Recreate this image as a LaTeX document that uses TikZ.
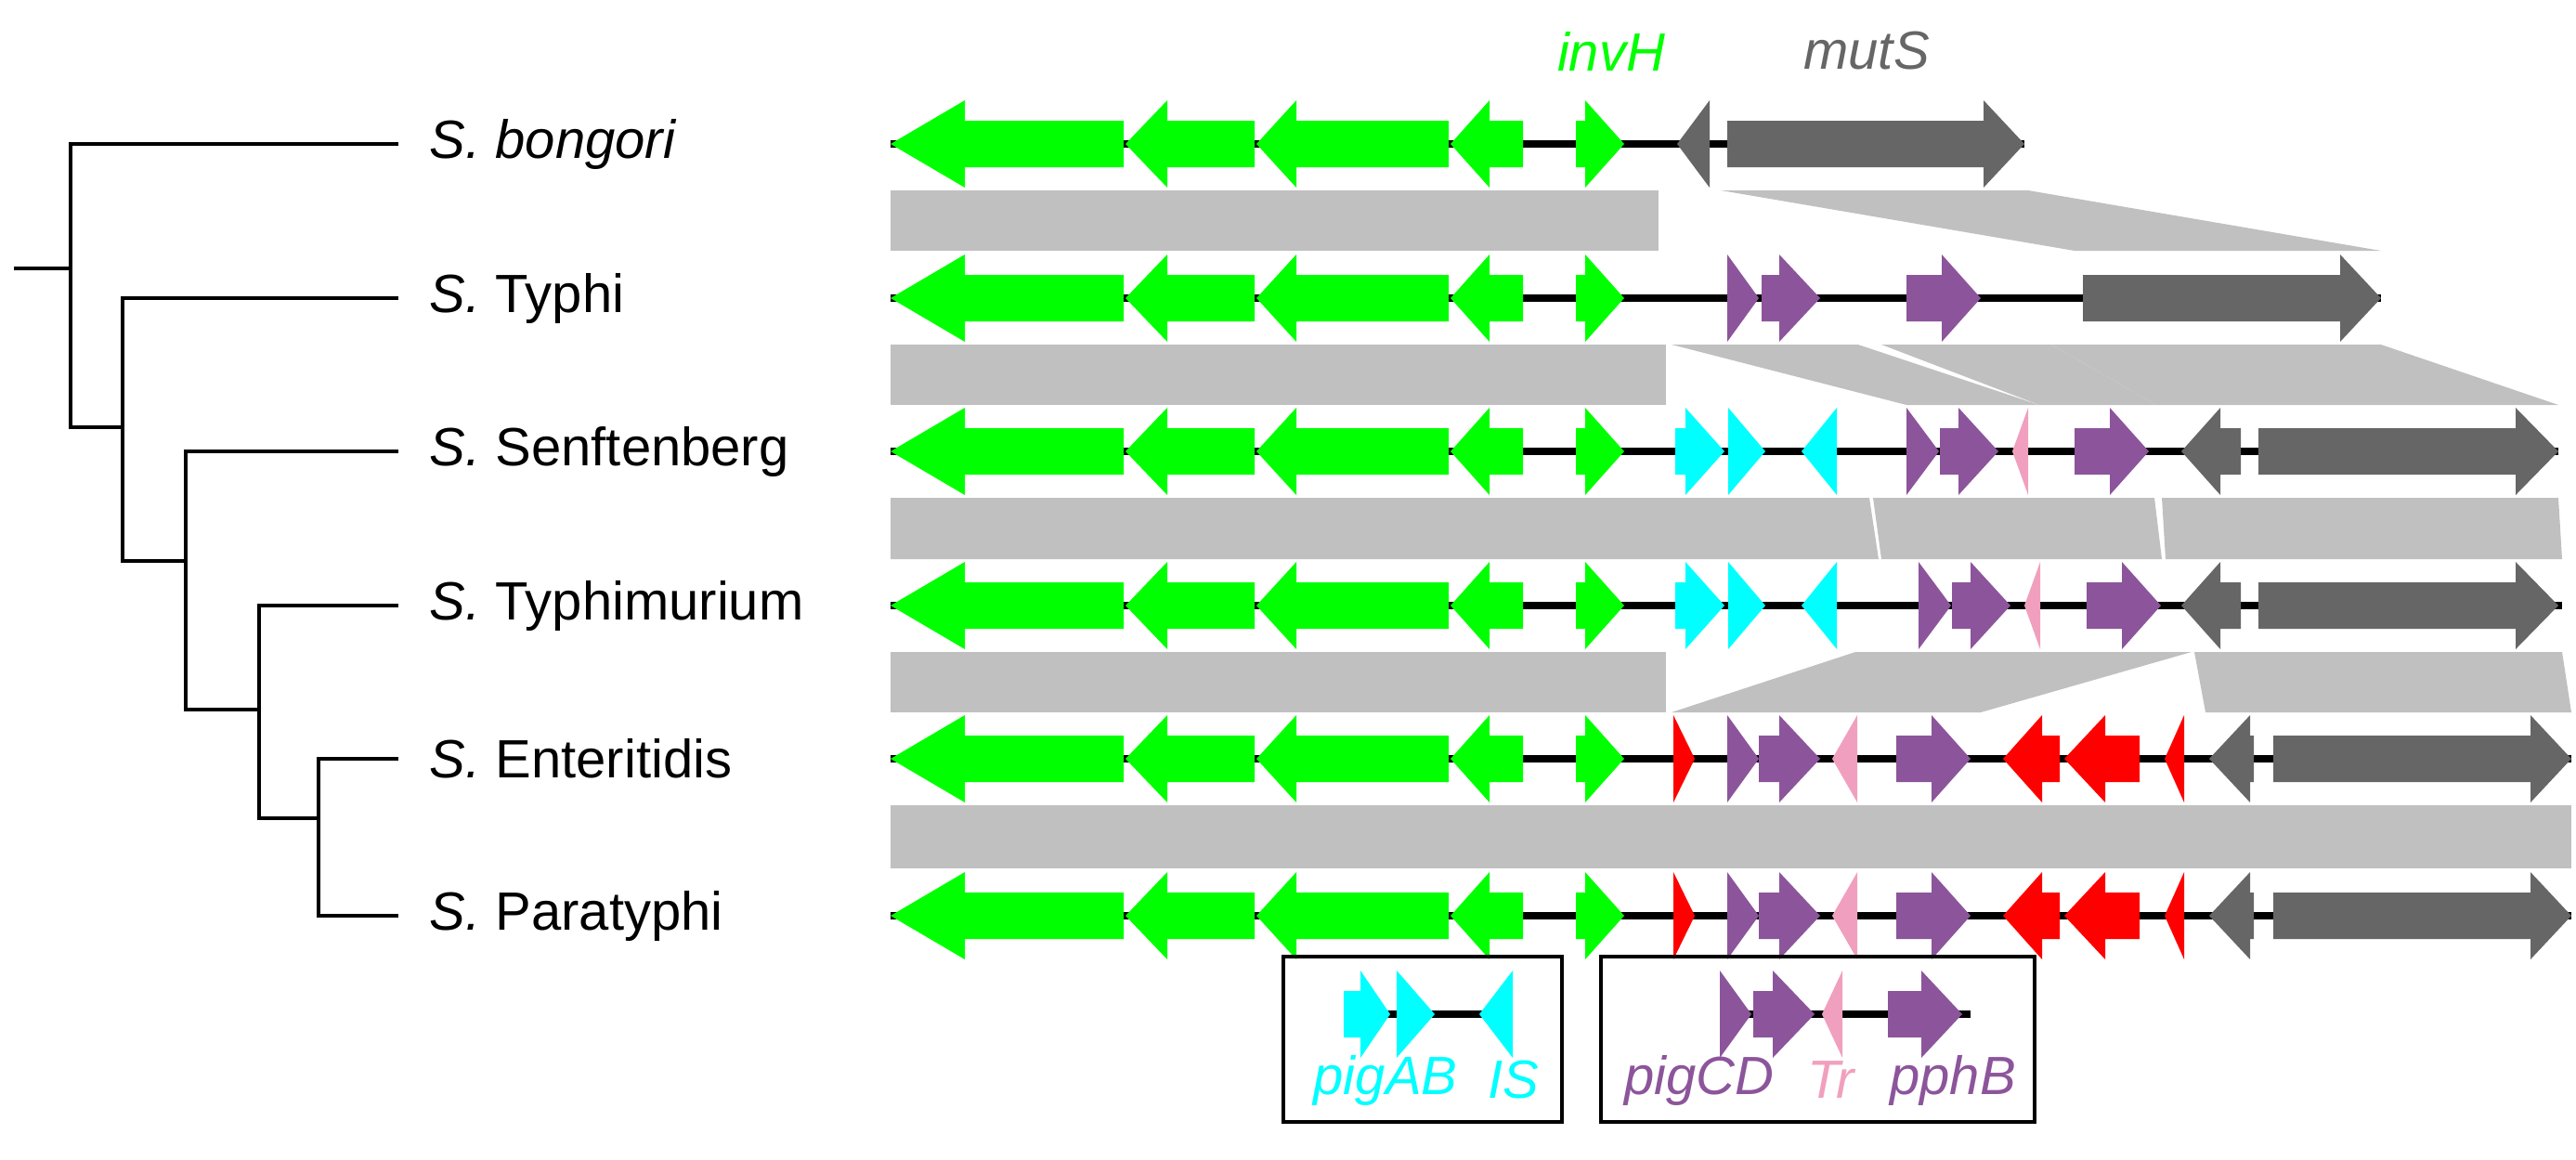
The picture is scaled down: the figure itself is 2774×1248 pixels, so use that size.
\documentclass[tikz,border=0pt]{standalone}
\usepackage{fontspec}
\setmainfont{Liberation Sans}
\usepackage{tikz}
\usetikzlibrary{positioning}

\definecolor{gGreen}{RGB}{0,255,0}
\definecolor{gCyan}{RGB}{0,255,255}
\definecolor{gPurple}{RGB}{140,85,155}
\definecolor{gPink}{RGB}{240,160,190}
\definecolor{gRed}{RGB}{255,0,0}
\definecolor{gGray}{RGB}{102,102,102}
\definecolor{gBand}{RGB}{192,192,192}

% gene arrow: colour, tail x, head base x, tip x, row y
\newcommand{\gene}[5]{%
	\fill[#1] (#2,#5-25) -- (#3,#5-25) -- (#3,#5-47) -- (#4,#5) -- (#3,#5+47) -- (#3,#5+25) -- (#2,#5+25) -- cycle;}

\begin{document}
\begin{tikzpicture}[x=0.1mm,y=-0.1mm,
	tree/.style={line width=1.2pt},
	dna/.style={line width=2.2pt},
	band/.style={fill=gBand},
	lab/.style={font=\fontsize{16.5}{19}\selectfont,anchor=west,inner sep=0pt},
	glab/.style={font=\fontsize{16.5}{19}\selectfont\itshape,inner sep=0pt},
	key/.style={draw=black,line width=1.2pt}]
	\useasboundingbox (0,0) rectangle (2774,1248);
	% species labels
	\node[lab] (bon) at (462,155) {\textit{S. bongori}};
	\node[lab] (typ) at (462,321) {\textit{S.} Typhi};
	\node[lab] (sen) at (462,486) {\textit{S.} Senftenberg};
	\node[lab] (tym) at (462,652) {\textit{S.} Typhimurium};
	\node[lab] (ent) at (462,817) {\textit{S.} Enteritidis};
	\node[lab] (par) at (462,986) {\textit{S.} Paratyphi};
	% tree
	\coordinate (root) at (15,289);
	\coordinate (nA) at (76,289);
	\coordinate (nB) at (132,460);
	\coordinate (nC) at (200,604);
	\coordinate (nD) at (279,764);
	\coordinate (nE) at (343,881);
	\draw[tree] (root) -- (nA);
	\draw[tree] (nA) |- ([xshift=-3.3mm]bon.west);
	\draw[tree] (nA) |- (nB);
	\draw[tree] (nB) |- ([xshift=-3.3mm]typ.west);
	\draw[tree] (nB) |- (nC);
	\draw[tree] (nC) |- ([xshift=-3.3mm]sen.west);
	\draw[tree] (nC) |- (nD);
	\draw[tree] (nD) |- ([xshift=-3.3mm]tym.west);
	\draw[tree] (nD) |- (nE);
	\draw[tree] (nE) |- ([xshift=-3.3mm]ent.west);
	\draw[tree] (nE) |- ([xshift=-3.3mm]par.west);
	% alignment bands
	\fill[band] (959,205) rectangle (1786,270);
	\fill[band] (1853,205) -- (2184,205) -- (2564,270) -- (2234,270) -- cycle;
	\fill[band] (959,371) rectangle (1794,436);
	\fill[band] (1800,371) -- (2001,371) -- (2196,436) -- (2053,436) -- cycle;
	\fill[band] (2026,371) -- (2209,371) -- (2322,436) -- (2196,436) -- cycle;
	\fill[band] (2209,371) -- (2564,371) -- (2755,436) -- (2322,436) -- cycle;
	\fill[band] (959,536) -- (2013,536) -- (2023,602) -- (959,602) -- cycle;
	\fill[band] (2017,536) -- (2320,536) -- (2328,602) -- (2026,602) -- cycle;
	\fill[band] (2328,536) -- (2755,536) -- (2759,602) -- (2332,602) -- cycle;
	\fill[band] (959,702) rectangle (1794,767);
	\fill[band] (1998,702) -- (2360,702) -- (2133,767) -- (1800,767) -- cycle;
	\fill[band] (2363,702) -- (2759,702) -- (2769,767) -- (2375,767) -- cycle;
	\fill[band] (959,867) rectangle (2769,935);
	% chromosome lines
	\draw[dna] (959,155) -- (2180,155);
	\draw[dna] (959,321) -- (2564,321);
	\draw[dna] (959,486) -- (2755,486);
	\draw[dna] (959,652) -- (2759,652);
	\draw[dna] (959,817) -- (2769,817);
	\draw[dna] (959,986) -- (2769,986);
	% conserved genes
	\foreach \y in {155,321,486,652,817,986} {
		\gene{gGreen}{1210}{1039}{959}{\y}
		\gene{gGreen}{1351}{1257}{1212}{\y}
		\gene{gGreen}{1560}{1396}{1353}{\y}
		\gene{gGreen}{1640}{1604}{1562}{\y}
		\gene{gGreen}{1697}{1707}{1749}{\y}
	}
	% S. bongori
	\gene{gGray}{1841}{1841}{1806}{155}
	\gene{gGray}{1860}{2136}{2180}{155}
	% S. Typhi
	\gene{gPurple}{1860}{1860}{1894}{321}
	\gene{gPurple}{1897}{1916}{1960}{321}
	\gene{gPurple}{2053}{2091}{2133}{321}
	\gene{gGray}{2243}{2520}{2564}{321}
	% S. Senftenberg and S. Typhimurium
	\foreach \y/\d in {486/0,652/13} {
		\gene{gCyan}{1804}{1815}{1857}{\y}
		\gene{gCyan}{1861}{1861}{1901}{\y}
		\gene{gCyan}{1978}{1978}{1940}{\y}
		\gene{gPurple}{2053+\d}{2053+\d}{2088+\d}{\y}
		\gene{gPurple}{2089+\d}{2109+\d}{2152+\d}{\y}
		\gene{gPink}{2184+\d}{2184+\d}{2167+\d}{\y}
		\gene{gPurple}{2234+\d}{2272+\d}{2314+\d}{\y}
		\gene{gGray}{2413}{2391}{2349}{\y}
		\gene{gGray}{2432}{2709}{2755}{\y}
	}
	% S. Enteritidis and S. Paratyphi
	\foreach \y in {817,986} {
		\gene{gRed}{1802}{1802}{1825}{\y}
		\gene{gPurple}{1860}{1860}{1894}{\y}
		\gene{gPurple}{1894}{1916}{1960}{\y}
		\gene{gPink}{2000}{2000}{1973}{\y}
		\gene{gPurple}{2042}{2080}{2122}{\y}
		\gene{gRed}{2218}{2199}{2157}{\y}
		\gene{gRed}{2304}{2267}{2223}{\y}
		\gene{gRed}{2352}{2352}{2331}{\y}
		\gene{gGray}{2427}{2423}{2379}{\y}
		\gene{gGray}{2448}{2725}{2769}{\y}
	}
	% gene names
	\node[glab,text=gGreen] (invH) at (1735,55) {invH};
	\node[glab,text=gGray] (mutS) at (2010,55) {mutS};
	% key
	\draw[key] (1382,1030) rectangle (1682,1208);
	\draw[dna] (1447,1092) -- (1629,1092);
	\gene{gCyan}{1447}{1465}{1497}{1092}
	\gene{gCyan}{1504}{1504}{1545}{1092}
	\gene{gCyan}{1629}{1629}{1593}{1092}
	\node[glab,text=gCyan] (pigAB) at (1492,1163) {pigAB};
	\node[glab,text=gCyan] (IS) at (1630,1163) {IS};
	\draw[key] (1724,1030) rectangle (2191,1208);
	\draw[dna] (1852,1092) -- (2122,1092);
	\gene{gPurple}{1852}{1852}{1886}{1092}
	\gene{gPurple}{1888}{1909}{1954}{1092}
	\gene{gPink}{1984}{1984}{1962}{1092}
	\gene{gPurple}{2033}{2069}{2113}{1092}
	\node[glab,text=gPurple] (pigCD) at (1830,1163) {pigCD};
	\node[glab,text=gPink] (Tr) at (1972,1163) {Tr};
	\node[glab,text=gPurple] (pphB) at (2103,1163) {pphB};
\end{tikzpicture}
\end{document}
